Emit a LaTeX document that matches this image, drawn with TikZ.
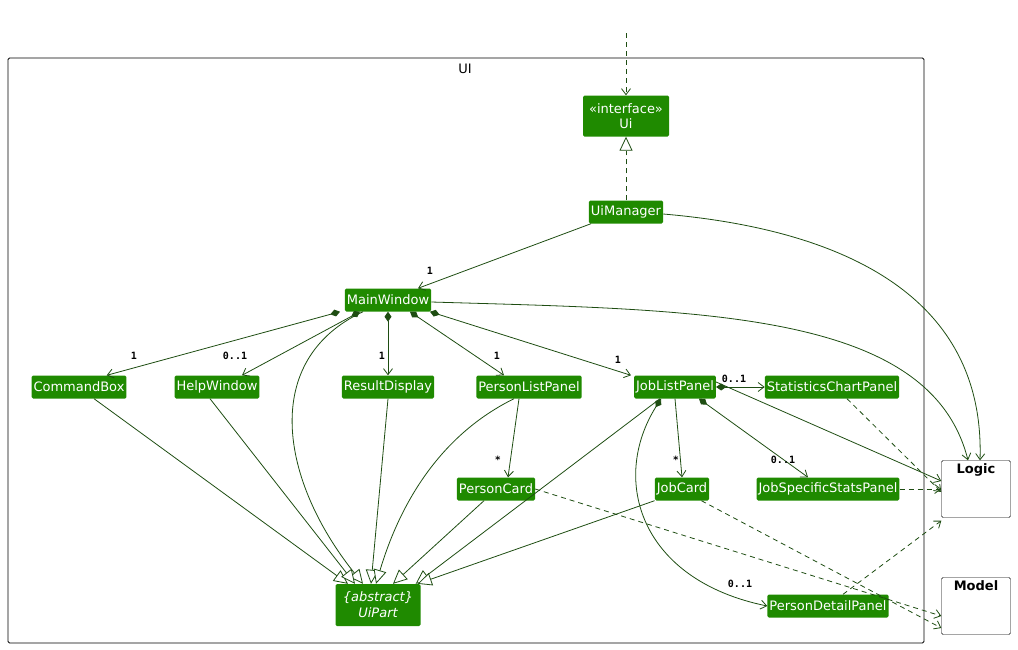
\documentclass[tikz,border=0pt]{standalone}
\usepackage{fontspec}
\setmainfont{DejaVu Sans}
\newfontfamily\multfont{DejaVu Sans Mono}
\usetikzlibrary{arrows.meta}
\definecolor{cfill}{HTML}{1F8A00}
\definecolor{cline}{HTML}{1E4D12}
\tikzset{
  x=1pt,y=-1pt,
  cls/.style={fill=cfill,text=white,rounded corners=1.5pt,inner sep=2pt,minimum height=23pt,font=\fontsize{13}{15}\selectfont},
  pkg/.style={draw=black,fill=white,rounded corners=1.5pt,minimum width=69pt,minimum height=57pt},
  ed/.style={draw=cline,line width=0.8pt},
  assoc/.style={ed,-{Straight Barb[length=6pt,width=9pt]}},
  comp/.style={ed,{Diamond[length=10pt,width=7pt]}-{Straight Barb[length=6pt,width=9pt]}},
  inh/.style={ed,-{Triangle[open,length=14pt,width=13pt,fill=white]}},
  dep/.style={ed,dashed,dash pattern=on 5pt off 4pt,-{Straight Barb[length=6pt,width=9pt]}},
  mult/.style={font=\multfont\bfseries\fontsize{10}{10}\selectfont,inner sep=1pt},
}
\begin{document}
\begin{tikzpicture}
\useasboundingbox (0,0) rectangle (1018,649);
\draw[black,line width=0.8pt,rounded corners=1.5pt] (8,58) rectangle (924,643);
\node[font=\fontsize{13}{15}\selectfont] (uil) at (465,69) {UI};
\coordinate (top) at (626,33);
\node[cls,minimum width=86pt,minimum height=41pt,align=center] (ui) at (626,116) {«interface»\\Ui};
\node[cls] (uim) at (626,212) {UiManager};
\node[cls] (mw) at (388,300) {MainWindow};
\node[cls] (cb) at (79,387) {CommandBox};
\node[cls] (hw) at (217,387) {HelpWindow};
\node[cls] (rd) at (388,387) {ResultDisplay};
\node[cls] (plp) at (529,387) {PersonListPanel};
\node[cls] (jlp) at (675,387) {JobListPanel};
\node[cls] (scp) at (832,387) {StatisticsChartPanel};
\node[cls] (pc) at (496,489) {PersonCard};
\node[cls] (jc) at (682,489) {JobCard};
\node[cls] (jssp) at (828,489) {JobSpecificStatsPanel};
\node[cls,align=center,minimum width=85pt,minimum height=42pt,font=\itshape\fontsize{13}{16}\selectfont] (up) at (378,605) {\{abstract\}\\UiPart};
\node[cls] (pdp) at (828,606) {PersonDetailPanel};
\node[pkg] (logic) at (976,489) {};
\node[font=\bfseries\fontsize{13}{15}\selectfont,anchor=north] (logicl) at (logic.north) {Logic};
\node[pkg] (model) at (976,606) {};
\node[font=\bfseries\fontsize{13}{15}\selectfont,anchor=north] (modell) at (model.north) {Model};

\draw[dep] (top) -- (ui.north);
\draw[ed,dashed,dash pattern=on 5pt off 4pt,-{Triangle[open,length=14pt,width=13pt,fill=white]}] (uim.north) -- (ui.south);
\draw[assoc] ([xshift=-35pt]uim.south) -- ([xshift=30pt]mw.north);
\node[mult] at (430,271) {1};
\draw[assoc] (uim.east) ++(0,2) .. controls (850,230) and (985,300) .. ([xshift=4pt]logic.north);
\draw[assoc] (mw.east) ++(0,2) .. controls (700,310) and (930,310) .. ([xshift=-8pt]logic.north);

\draw[comp] ([xshift=-48pt]mw.south) -- ([xshift=-20pt]cb.north east);
\node[mult] at (134,356) {1};
\draw[comp] ([xshift=-28pt]mw.south) -- ([xshift=25pt]hw.north);
\node[mult] at (235,356) {0..1};
\draw[comp] (mw.south) -- (rd.north);
\node[mult] at (382,356) {1};
\draw[comp] ([xshift=22pt]mw.south) -- ([xshift=-25pt]plp.north);
\node[mult] at (497,356) {1};
\draw[comp] ([xshift=42pt]mw.south) -- ([xshift=-44pt]jlp.north);
\node[mult] at (618,360) {1};

\draw[inh] ([xshift=-25pt]mw.south) .. controls (260,360) and (280,480) .. ([xshift=-15pt]up.north);
\draw[inh] ([xshift=15pt]cb.south) -- ([xshift=-30pt]up.north);
\draw[inh] ([xshift=-7pt]hw.south) -- ([xshift=-23pt]up.north);
\draw[inh] (rd.south) -- ([xshift=-7pt]up.north);
\draw[inh] ([xshift=-15pt]plp.south) .. controls (430,440) and (395,520) .. ([xshift=-2pt]up.north);
\draw[inh] ([xshift=-12pt]pc.south) -- ([xshift=15pt]up.north);
\draw[inh] ([xshift=-15pt]jlp.south) -- ([xshift=-5pt]up.north east);
\draw[inh] (jc.south west) -- ([xshift=-3pt]up.north east);

\draw[assoc] ([xshift=-10pt]plp.south) -- ([xshift=12pt]pc.north);
\node[mult] at (498,460) {*};

\draw[comp] (jlp.east) -- (scp.west);
\node[mult] at (734,379) {0..1};
\draw[assoc] (jlp.south) -- (jc.north);
\node[mult] at (676,460) {*};
\draw[comp] ([xshift=24pt]jlp.south) -- ([xshift=-20pt]jssp.north);
\node[mult] at (783,460) {0..1};
\draw[comp] ([xshift=-14pt]jlp.south) .. controls (610,480) and (640,580) .. (pdp.west);
\node[mult] at (740,584) {0..1};
\draw[assoc] ([yshift=5pt]jlp.east) -- ([yshift=8pt]logic.west);
\draw[dep] ([xshift=15pt]scp.south) -- ([yshift=-3pt]logic.west);
\draw[dep] (jssp.east) -- (logic.west);
\draw[dep] ([xshift=15pt]pdp.north) -- ([yshift=-3pt]logic.south west);
\draw[dep] (pc.east) -- ([yshift=-10pt]model.west);
\draw[dep] ([xshift=-8pt]jc.south east) -- ([yshift=-22pt]model.west);
\end{tikzpicture}
\end{document}
